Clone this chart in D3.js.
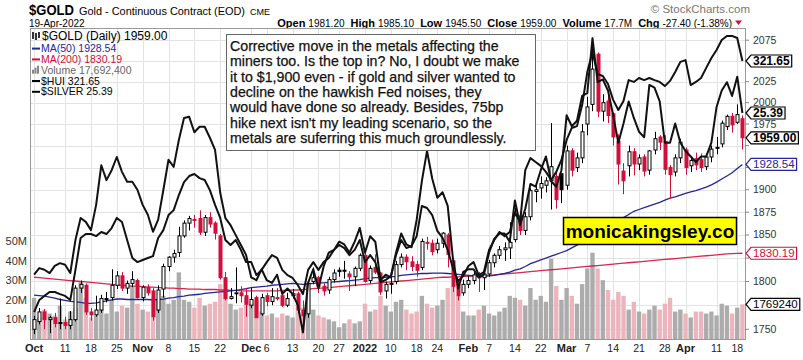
<!DOCTYPE html>
<html><head><meta charset="utf-8">
<script src="https://cdn.jsdelivr.net/npm/d3@7"></script>
<style>
body{margin:0;background:#fff}
svg{display:block}
text{font-family:"Liberation Sans",Arial,sans-serif}
</style>
</head><body>
<svg id="c" width="803" height="360"></svg>
<script>
// ---------------- DATA ----------------
const holidays = ['2021-11-25','2021-12-24','2022-01-17','2022-02-21','2022-04-15'];
const priorClose = 1757;
const open = [
1750,1758,1768,1760,1762,1756,1757,1754,1760,1793,
1796,1768,1765,1770,1782,1783,1796,1806,1793,1798,
1801,1783,1794,1790,1770,1792,1816,1826,1831,1849,
1863,1867,1868,1853,1869,1863,1849,1804,1782,1788,
1788,1785,1775,1783,1766,1785,1779,1783,1785,1775,
1785,1787,1770,1766,1800,1804,1795,1791,1802,1812,
1812,1808,1805,1814,1828,1801,1815,1809,1790,1797,
1800,1818,1826,1821,1818,1815,1842,1841,1834,1841,
1850,1822,1797,1788,1797,1801,1807,1804,1808,1820,
1828,1834,1836,1845,1871,1855,1870,1898,1902,1905,
1910,1915,1918,1905,1944,1925,1936,1975,1998,2058,
1990,2002,1987,1955,1921,1927,1943,1929,1937,1922,
1945,1960,1955,1925,1920,1936,1945,1927,1935,1934,
1926,1937,1947,1952,1972,1984,1977,1981.2];
const high = [
1764,1772,1771,1764,1767,1782,1763,1769,1796,1801,
1798,1772,1785,1786,1789,1813,1811,1810,1801,1811,
1803,1796,1797,1793,1796,1819,1827,1834,1859,1866,
1871,1872,1877,1872,1875,1865,1851,1810,1793,1815,
1795,1793,1793,1785,1787,1788,1793,1793,1790,1788,
1792,1789,1780,1800,1815,1806,1798,1805,1813,1815,
1822,1811,1816,1830,1832,1817,1829,1810,1800,1804,
1822,1830,1829,1827,1822,1846,1848,1845,1846,1853,
1852,1825,1801,1802,1806,1810,1810,1814,1823,1830,
1838,1842,1864,1880,1875,1875,1902,1908,1915,1914,
1976,1920,1918,1950,1947,1942,1975,2007,2078,2060,
2010,2008,1989,1963,1930,1950,1947,1940,1940,1945,
1966,1962,1962,1928,1940,1958,1948,1938,1942,1941,
1941,1950,1960,1979,1986,1988,1998,1985.1];
const low = [
1745,1755,1750,1746,1752,1750,1750,1750,1758,1788,
1765,1759,1763,1767,1778,1780,1792,1790,1787,1794,
1782,1779,1785,1759,1767,1783,1811,1820,1826,1847,
1855,1858,1850,1849,1858,1845,1802,1780,1781,1777,
1778,1763,1772,1762,1764,1774,1775,1780,1773,1773,
1782,1766,1753,1762,1797,1788,1785,1787,1799,1805,
1803,1790,1795,1811,1799,1798,1808,1786,1782,1787,
1797,1815,1812,1811,1805,1812,1834,1828,1830,1836,
1815,1789,1780,1785,1793,1797,1789,1791,1805,1815,
1824,1822,1824,1842,1850,1850,1866,1886,1890,1897,
1878,1879,1885,1900,1915,1920,1930,1962,1990,1983,
1978,1976,1950,1906,1895,1915,1916,1922,1915,1917,
1940,1945,1917,1890,1915,1930,1917,1920,1922,1920,
1922,1931,1940,1948,1968,1965,1975,1945.5];
const close = [
1760,1768,1760,1762,1756,1757,1754,1760,1793,1797,
1768,1765,1770,1782,1782,1796,1806,1793,1798,1802,
1783,1794,1788,1763,1791,1816,1826,1830,1849,1863,
1868,1867,1853,1869,1862,1852,1804,1782,1784,1788,
1785,1776,1781,1762,1783,1779,1784,1783,1775,1782,
1787,1770,1764,1798,1804,1795,1790,1802,1809,1810.5,
1811,1805,1814,1828,1800,1814,1810,1789,1797,1798,
1818,1826,1821,1816,1812,1843,1842,1832,1841,1852,
1829,1795,1785,1797,1801,1807,1804,1808,1820,1828,
1834,1836,1842,1871,1855,1870,1899,1900,1907,1910,
1926,1889,1900,1944,1922,1936,1966,1995,2040,1990,
2000,1985,1960,1929,1910,1943,1929,1936,1921,1944,
1958,1954,1923,1917,1936,1954,1925,1933,1928,1925,
1937,1946,1948,1976,1984,1974,1986,1959];
// volume, millions
const volume = [
21,11,15,13,12,17,10,14,16,29,
21,11,12,15,13,20,14,17,16,27,
18,15,14,21,20,22,18,20,34,20,
19,16,21,17,18,19,28,25,18,15,
16,21,18,20,14,12,13,11,13,12,
11,18,16,17,15,12,11,10,9,6,
8,10,8,9,18,14,15,22,17,14,
19,20,15,13,14,22,18,16,17,20,
26,27,22,14,12,12,15,17,13,12,
14,16,22,21,20,17,26,20,22,19,
41,27,20,26,22,18,28,36,44,36,
30,25,20,24,22,15,19,14,13,15,
17,15,18,21,14,15,13,11,14,14,
13,14,12,18,17,13,16,17.6924];
const ma50 = [
1785.5,1785,1784.5,1783.5,1782.5,1781,1780,1779,1778.5,1778,
1777,1777,1777.5,1778.5,1779.5,1780.5,1781.5,1781.5,1781,1781,
1781,1781,1781,1780.5,1781,1781.5,1782.5,1783,1784,1784.5,
1785.5,1786,1786.5,1787.5,1788,1788.5,1789,1789.5,1790,1790.5,
1791.5,1792.5,1793.5,1794,1794.5,1795,1796,1796.5,1797,1797.5,
1798,1797.5,1797,1797.5,1798,1798.5,1798.5,1799,1799.5,1800,
1800.5,1801,1801.5,1802,1803,1803.5,1804,1804,1804.5,1805,
1805.5,1806.5,1807,1807.5,1808,1808.5,1808.5,1809,1809,1809,
1808.5,1808,1807.5,1807,1806.5,1806,1806,1805.5,1806,1806.5,
1807.5,1808.5,1810,1812,1813.5,1816,1819,1821,1823,1825,
1827,1829,1831,1833,1836,1839,1842,1845.5,1849,1852,
1855.5,1859,1862,1865.5,1869,1872.5,1876,1878,1880,1882,
1884,1886,1888.5,1890.5,1892,1894,1896,1897.5,1899,1901,
1903,1905.5,1908.5,1912,1915.5,1919,1924,1928.54];
const ma200 = [
1804.5,1804,1803.5,1803,1802.5,1802,1801.5,1801,1800.5,1800,
1799.5,1799,1798.5,1798,1797.5,1797,1796.5,1796,1795.5,1795,
1795,1794.5,1794,1794,1793.5,1793.5,1793,1793,1792.5,1792.5,
1792,1792,1792,1791.5,1791.5,1791.5,1791,1791,1790.5,1790.5,
1790,1790,1790,1790,1790,1790,1790,1790,1790.5,1790.5,
1791,1791,1791.5,1792,1792.5,1793,1793,1793.5,1794,1794.5,
1795,1795.5,1796,1796.5,1797,1797.5,1798,1798.5,1799,1799.5,
1800,1800.5,1801,1801.5,1802,1802.5,1803,1803.5,1804,1804.5,
1804.5,1805,1805,1805.5,1805.5,1806,1806,1806.5,1806.5,1807,
1807.5,1808,1808.5,1809,1809.5,1810,1810.5,1811,1811.5,1812,
1812.5,1813,1813.5,1814,1814.5,1815,1815.5,1816,1816.5,1817,
1817.5,1818,1818.5,1819,1819.5,1820,1820.5,1821,1821.5,1822,
1822.5,1823,1823.5,1824,1824.5,1825,1825.5,1826,1826.5,1827,
1827.5,1828,1828.5,1829,1829.5,1829.8,1830,1830.19];
const hui = [
225.1,229.7,231.3,232.8,232.8,232.0,231.3,229.7,241.3,253.6,
255.1,255.1,254.3,255.9,255.1,257.4,261.3,259.7,252.8,245.9,
244.3,245.1,245.9,246.6,253.6,256.6,262.4,264.3,270.1,275.1,
277.4,278.2,276.6,275.9,272.0,266.3,261.3,252.8,250.9,252.8,
249.0,244.3,244.3,239.3,241.3,244.3,247.0,245.9,241.3,239.3,
238.2,235.5,232.0,241.3,244.3,241.3,244.3,245.9,249.0,250.9,
249.7,247.0,249.0,252.8,244.3,247.0,244.3,236.6,237.4,238.9,
247.0,252.8,249.7,250.5,254.3,265.9,265.1,262.4,256.3,253.6,
249.0,242.0,237.0,238.9,242.8,244.3,239.3,240.5,249.0,252.8,
255.9,254.3,255.9,263.6,259.7,279.7,284.3,282.8,281.3,279.0,
275.9,279.0,283.6,291.3,295.9,296.6,304.7,317.4,325.1,316.6,
315.9,312.8,306.7,302.8,306.3,314.3,313.6,315.1,314.3,315.1,
314.3,313.6,312.0,314.0,317.4,321.3,322.0,312.4,313.6,315.1,
319.0,322.8,325.9,329.7,331.3,331.3,330.5,321.65];
const silver = [
22.45,22.57,22.54,22.48,22.61,22.66,22.63,22.48,23.08,23.48,
23.41,23.26,23.72,24.44,24.17,24.35,24.59,24.32,24.14,24.14,
23.99,23.72,23.54,23.23,23.45,23.99,24.54,24.41,24.90,25.30,
25.32,25.04,25.14,25.14,24.94,24.72,23.94,23.48,23.35,23.17,
22.99,22.81,22.40,22.35,22.55,22.35,22.30,22.45,22.10,22.20,
22.10,21.90,21.40,22.30,22.55,22.20,22.60,22.85,22.90,23.05,
23.00,22.85,23.05,23.30,22.85,23.15,23.05,22.35,22.45,22.40,
22.85,23.20,23.00,22.95,23.45,24.15,24.70,24.20,23.85,23.95,
23.70,22.75,22.20,22.50,22.55,22.55,22.40,22.45,22.85,23.10,
23.20,23.20,23.05,23.80,23.35,23.65,24.10,24.05,24.35,24.60,
24.15,24.05,24.35,25.35,25.15,25.25,25.70,25.75,26.75,25.95,
26.00,25.80,25.35,24.85,25.20,25.60,25.30,25.05,24.95,25.90,
25.85,25.60,24.85,24.85,25.20,24.85,24.70,24.60,24.50,24.60,
24.60,24.85,25.50,25.80,25.95,25.70,26.05,25.39];
const priceTicks = [1750,1775,1800,1825,1850,1875,1900,1925,1950,1975,2000,2025,2050,2075];
const volTicks = [10,20,30,40,50];
const xTicks = [
 ['2021-10-01','Oct',1],['2021-10-11','11',0],['2021-10-18','18',0],['2021-10-25','25',0],
 ['2021-11-01','Nov',1],['2021-11-08','8',0],['2021-11-15','15',0],['2021-11-22','22',0],
 ['2021-12-01','Dec',1],['2021-12-06','6',0],['2021-12-13','13',0],['2021-12-20','20',0],['2021-12-27','27',0],
 ['2022-01-03','2022',1],['2022-01-10','10',0],['2022-01-18','18',0],['2022-01-24','24',0],
 ['2022-02-01','Feb',1],['2022-02-07','7',0],['2022-02-14','14',0],['2022-02-22','22',0],
 ['2022-03-01','Mar',1],['2022-03-07','7',0],['2022-03-14','14',0],['2022-03-21','21',0],['2022-03-28','28',0],
 ['2022-04-01','Apr',1],['2022-04-11','11',0],['2022-04-18','18',0]];
const headerStats = [['Open','1981.20'],['High','1985.10'],['Low','1945.50'],['Close','1959.00'],['Volume','17.7M'],['Chg','-27.40 (-1.38%)']];
const legendRows = [
 ['$GOLD (Daily) 1959.00','#000','candle'],
 ['MA(50) 1928.54','#25259a','line'],
 ['MA(200) 1830.19','#d0103a','line'],
 ['Volume 17,692,400','#666','vol'],
 ['$HUI 321.65','#000','line'],
 ['$SILVER 25.39','#000','line']];
const note = ["Corrective move in the metals affecting the",
 "miners too. Is the top in? No, I doubt we make",
 "it to $1,900 even - if gold and silver wanted to",
 "decline on the hawkish Fed noises, they",
 "would have done so already. Besides, 75bp",
 "hike next isn't my leading scenario, so the",
 "metals are suferring this much groundlessly."];

// ---------------- LAYOUT ----------------
const P = {l:30, t:28, r:745, b:339};
const RED = '#d0103a', BLUE = '#25259a', MARED = '#d8274c';
const svg = d3.select('#c');
const fmt = d3.utcFormat('%Y-%m-%d');
const dates = d3.utcDays(new Date(Date.UTC(2021,9,1)), new Date(Date.UTC(2022,3,20)))
  .filter(d => d.getUTCDay()%6 !== 0 && !holidays.includes(fmt(d))).map(fmt);

const x = d3.scaleBand().domain(dates).range([31.5, P.r]).paddingInner(0).paddingOuter(0);
const cx = d => x(d) + x.bandwidth()/2;
const y = d3.scaleLog().domain([1750, 2075]).range([329.3, 40.2]);
const yVol = d3.scaleLinear().domain([0, 50]).range([P.b, 241]);
const yHui = d3.scaleLinear().domain([221.65, 321.65]).range([321, 61]);
const ySil = d3.scaleLinear().domain([21.39, 25.39]).range([333, 113]);

svg.append('defs').append('clipPath').attr('id','clip')
  .append('rect').attr('x',P.l).attr('y',P.t).attr('width',P.r-P.l).attr('height',P.b-P.t);

// grid
const grid = svg.append('g').attr('stroke','#e3e3e3').attr('stroke-width',1);
priceTicks.forEach(t => grid.append('line').attr('x1',P.l).attr('x2',P.r)
  .attr('y1',Math.round(y(t))+0.5).attr('y2',Math.round(y(t))+0.5));
xTicks.forEach(t => grid.append('line').attr('y1',P.t).attr('y2',P.b)
  .attr('x1',Math.round(cx(t[0]))+0.5).attr('x2',Math.round(cx(t[0]))+0.5));

const rows = dates.map((d,i) => ({d, o:open[i], h:high[i], l:low[i], c:close[i], v:volume[i],
  up: close[i] >= (i ? close[i-1] : priorClose)}));

const plot = svg.append('g').attr('clip-path','url(#clip)');
// volume
plot.append('g').selectAll('rect').data(rows).join('rect')
  .attr('x', r => x(r.d)+0.4).attr('width', x.bandwidth()-0.8)
  .attr('y', r => yVol(r.v)).attr('height', r => P.b - yVol(r.v))
  .attr('fill', r => r.up ? '#acacac' : '#ecb4bc');

// moving averages
const lineP = (arr, sc) => d3.line().x((v,i)=>cx(dates[i])).y(v=>sc(v))(arr);
plot.append('path').attr('d', lineP(ma200, y)).attr('fill','none').attr('stroke',MARED).attr('stroke-width',1.3);
plot.append('path').attr('d', lineP(ma50, y)).attr('fill','none').attr('stroke',BLUE).attr('stroke-width',1.3);

// candles
const cg = plot.append('g');
rows.forEach(r => {
  const col = r.up ? '#000' : RED;
  const xc = Math.round(cx(r.d)) + 0.5;
  cg.append('line').attr('x1',xc).attr('x2',xc).attr('y1',y(r.h)).attr('y2',y(r.l))
    .attr('stroke',col).attr('stroke-width',1);
  const top = y(Math.max(r.o,r.c)), bot = y(Math.min(r.o,r.c));
  cg.append('rect').attr('x',xc-1.5).attr('width',3).attr('y',top).attr('height',Math.max(1,bot-top))
    .attr('fill', r.c >= r.o ? '#fff' : col).attr('stroke',col).attr('stroke-width',1);
});

// overlays
plot.append('path').attr('d', lineP(hui, yHui)).attr('fill','none').attr('stroke','#111').attr('stroke-width',2).attr('stroke-linejoin','round');
plot.append('path').attr('d', lineP(silver, ySil)).attr('fill','none').attr('stroke','#111').attr('stroke-width',2).attr('stroke-linejoin','round');

// frame
svg.append('rect').attr('x',P.l+0.5).attr('y',P.t+0.5).attr('width',P.r-P.l).attr('height',P.b-P.t)
  .attr('fill','none').attr('stroke','#9a9a9a');

// value tags
const tags = [
  [yHui(hui[hui.length-1]), '321.65', '#000', true],
  [ySil(silver[silver.length-1]), '25.39', '#000', true],
  [y(close[close.length-1]), '1959.00', '#000', true],
  [y(ma50[ma50.length-1]), '1928.54', BLUE, false],
  [y(ma200[ma200.length-1]), '1830.19', RED, false],
  [yVol(volume[volume.length-1]), '1769240', '#000', false]];

// right axis
const ax = svg.append('g').attr('font-size',11).attr('fill','#333');
priceTicks.forEach(t => {
  ax.append('line').attr('x1',P.r).attr('x2',P.r+4).attr('y1',y(t)).attr('y2',y(t)).attr('stroke','#888');
  const hidden = tags.some(tg => Math.abs(tg[0] - y(t)) < 9);
  if (!hidden) ax.append('text').attr('x',753).attr('y',y(t)+3.5).attr('font-size',10.5).text(t);
});
// left volume axis
volTicks.forEach(t => {
  ax.append('text').attr('x',27).attr('y',yVol(t)+4).attr('text-anchor','end').text(t+'M');
});
// x axis
xTicks.forEach(t => {
  svg.append('text').attr('x',cx(t[0])).attr('y',352).attr('text-anchor','middle')
    .attr('font-size', t[2] ? 11 : 10.5).attr('font-weight', t[2] ? 'bold':'normal')
    .attr('fill','#222').text(t[1]);
});

tags.forEach(([ty, s, col, b]) => {
  const g = svg.append('g');
  const p = g.append('path');
  const t = g.append('text').attr('x',753).attr('y',ty+4).attr('font-size', b?12:11.5)
    .attr('font-weight', b?'bold':'normal').attr('fill',col).text(s);
  const w = t.node().getComputedTextLength();
  const x0 = 746, x1 = 751, x2 = 753 + w + 2, h = 6;
  p.attr('d', `M${x0},${ty}L${x1},${ty-h}L${x2},${ty-h}L${x2},${ty+h}L${x1},${ty+h}Z`)
   .attr('fill','#fff').attr('stroke',col).attr('stroke-width',1.2);
});

// header
svg.append('text').attr('x',29).attr('y',14.5).attr('font-size',14.5).attr('font-weight','bold')
  .attr('textLength',45).attr('lengthAdjust','spacingAndGlyphs').text('$GOLD');
svg.append('text').attr('x',79).attr('y',14.5).attr('font-size',11).attr('textLength',166)
  .attr('lengthAdjust','spacingAndGlyphs').text('Gold - Continuous Contract (EOD)');
svg.append('text').attr('x',250).attr('y',14.5).attr('font-size',9).text('CME');
svg.append('text').attr('x',29).attr('y',27).attr('font-size',10).text('19-Apr-2022');
svg.append('text').attr('x',750).attr('y',13).attr('font-size',11.5).attr('text-anchor','end').attr('fill','#777').text('\u00A9 StockCharts.com');
const hg = svg.append('g');
let hx = 0;
headerStats.forEach(([k,v], i) => {
  const a = hg.append('text').attr('x',hx).attr('y',26.5).attr('font-family','DejaVu Sans')
    .attr('font-size',11).attr('font-weight','bold').text(k);
  hx += a.node().getComputedTextLength() + 3;
  const b = hg.append('text').attr('x',hx).attr('y',26.5).attr('font-size',10).text(v);
  hx += b.node().getComputedTextLength() + (i < headerStats.length-1 ? 6 : 3);
});
hg.append('path').attr('d',`M${hx},20.5L${hx+7},20.5L${hx+3.5},25Z`).attr('fill',RED);
hg.attr('transform', `translate(${742 - (hx+7)},0)`);
svg.append('line').attr('x1',P.l).attr('x2',P.r).attr('y1',P.t+0.5).attr('y2',P.t+0.5).attr('stroke','#9a9a9a');

// legend
legendRows.forEach(([s, col, kind], i) => {
  const by = i === 0 ? 40 : 41.3 + i*10.8;
  const g = svg.append('g');
  if (kind === 'candle') {
    g.append('text').attr('x',42).attr('y',by).attr('font-family','DejaVu Sans').attr('font-size',12).attr('fill',col).text(s);
    [[33,32,39],[36,33,40],[39,32,38]].forEach(([xx,a,b2]) => {
      g.append('line').attr('x1',xx).attr('x2',xx).attr('y1',a).attr('y2',b2).attr('stroke','#000').attr('stroke-width',1.6);
    });
  } else {
    g.append('text').attr('x',41).attr('y',by).attr('font-size',10.5).attr('fill',col).text(s);
    if (kind === 'line') {
      g.append('line').attr('x1',32).attr('x2',40).attr('y1',by-3.5).attr('y2',by-3.5).attr('stroke',col).attr('stroke-width',2);
    } else {
      [[32,4],[34.5,6],[37,8]].forEach(([xx,hh]) => g.append('rect').attr('x',xx).attr('y',by-hh).attr('width',2).attr('height',hh).attr('fill','#888'));
    }
  }
});

// annotation box
svg.append('rect').attr('x',226.5).attr('y',34.5).attr('width',309).attr('height',116)
  .attr('fill','#fff').attr('stroke','#666').attr('stroke-width',1);
note.forEach((s,i) => svg.append('text').attr('x',230).attr('y',51+i*15.3)
  .attr('font-size',14.2).attr('fill','#111').attr('stroke','#111').attr('stroke-width',0.25).text(s));

// brand box
svg.append('rect').attr('x',563.5).attr('y',217.5).attr('width',173).attr('height',27)
  .attr('fill','#ffff00').attr('stroke','#000').attr('stroke-width',1.5);
svg.append('text').attr('x',650).attr('y',238).attr('text-anchor','middle').attr('font-size',19)
  .attr('font-weight','bold').text('monicakingsley.co');
</script>
</body></html>
